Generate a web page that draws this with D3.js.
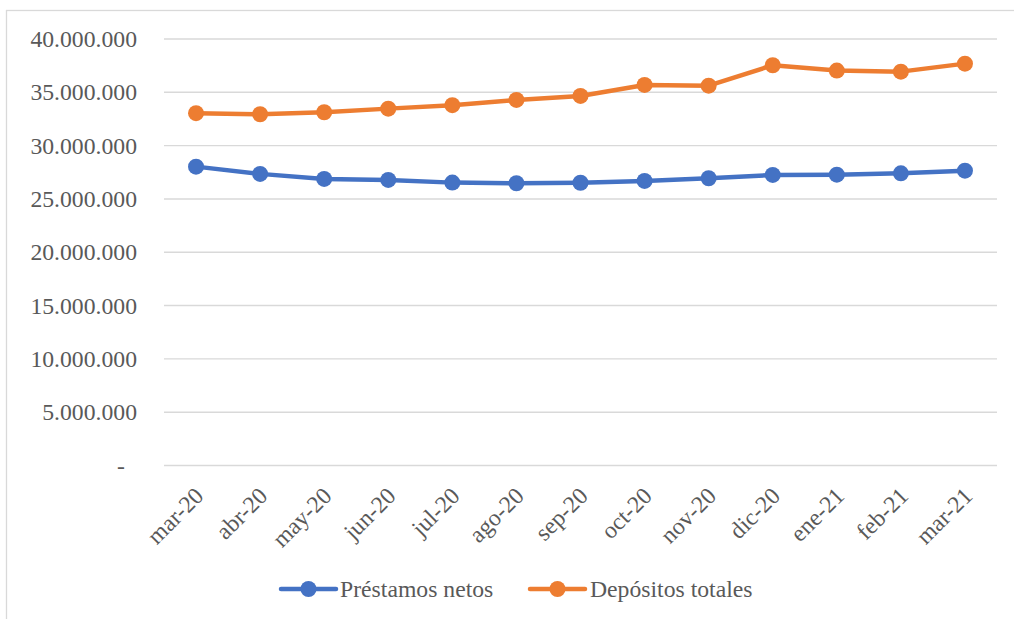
<!DOCTYPE html>
<html>
<head>
<meta charset="utf-8">
<script src="https://cdn.jsdelivr.net/npm/d3@7"></script>
<style>
  html, body { margin: 0; padding: 0; background: #fff; }
  svg { display: block; }
  #chart text { font-family: "Liberation Serif" !important; }
</style>
</head>
<body>
<svg id="chart" width="1014" height="619"></svg>
<script>
const categories = ["mar-20","abr-20","may-20","jun-20","jul-20","ago-20","sep-20","oct-20","nov-20","dic-20","ene-21","feb-21","mar-21"];
const prestamosNetos = [28030000, 27350000, 26880000, 26780000, 26530000, 26470000, 26520000, 26690000, 26940000, 27250000, 27280000, 27400000, 27650000];
const depositosTotales = [33040000, 32940000, 33130000, 33470000, 33790000, 34290000, 34660000, 35690000, 35620000, 37540000, 37040000, 36940000, 37690000];
const yTicks = [0, 5000000, 10000000, 15000000, 20000000, 25000000, 30000000, 35000000, 40000000];
const seriesNames = ["Préstamos netos", "Depósitos totales"];

const colors = ["#4472C4", "#ED7D31"];
const textColor = "#595959";
const fs = 23.7;

const svg = d3.select("#chart");

// outer frame
svg.append("rect")
  .attr("x", 6.5).attr("y", 10.5)
  .attr("width", 1020).attr("height", 620)
  .attr("fill", "none").attr("stroke", "#D9D9D9").attr("stroke-width", 1.3);

const plotLeft = 164, plotRight = 997, plotTop = 39, plotBottom = 465.5;

const x = d3.scaleBand().domain(categories).range([plotLeft, plotRight]).padding(0);
const y = d3.scaleLinear().domain([0, 40000000]).range([plotBottom, plotTop]);
const cx = d => x(d) + x.bandwidth() / 2;

const fmt = v => v === 0 ? "-" : d3.format(",")(v).replace(/,/g, ".");

// gridlines
svg.append("g").selectAll("line").data(yTicks).join("line")
  .attr("x1", plotLeft).attr("x2", plotRight)
  .attr("y1", d => y(d)).attr("y2", d => y(d))
  .attr("stroke", "#D9D9D9").attr("stroke-width", 1.4);

// y axis labels
const yAxis = d3.axisLeft(y).tickValues(yTicks).tickFormat(fmt).tickSize(0).tickPadding(0);
const yg = svg.append("g").attr("transform", `translate(137,0)`).call(yAxis);
yg.attr("font-family", "Liberation Serif").attr("font-size", fs);
yg.select(".domain").remove();
yg.selectAll("text")
  .attr("font-family", "Liberation Serif")
  .style("font-family", "'Liberation Serif'")
  .attr("font-size", fs)
  .attr("fill", textColor)
  .attr("x", d => d === 0 ? -12 : 0);

// x axis labels
const xAxis = d3.axisBottom(x).tickSize(0).tickPadding(0);
const xg = svg.append("g").attr("transform", `translate(0,${plotBottom})`).call(xAxis);
xg.attr("font-family", "Liberation Serif").attr("font-size", fs);
xg.select(".domain").remove();
xg.selectAll(".tick text")
  .attr("font-family", "Liberation Serif")
  .style("font-family", "'Liberation Serif'")
  .attr("font-size", fs)
  .attr("y", 0).attr("x", 0)
  .attr("dy", "0.35em")
  .attr("text-anchor", "end")
  .attr("transform", "translate(3,26) rotate(-45)")
  .attr("fill", textColor);

// lines
const series = [prestamosNetos, depositosTotales];
const line = d3.line().x((d, i) => cx(categories[i])).y(d => y(d));
series.forEach((vals, si) => {
  svg.append("path").datum(vals)
    .attr("d", line)
    .attr("fill", "none")
    .attr("stroke", colors[si])
    .attr("stroke-width", 4.5)
    .attr("stroke-linejoin", "round")
    .attr("stroke-linecap", "round");
  svg.append("g").selectAll("circle").data(vals).join("circle")
    .attr("cx", (d, i) => cx(categories[i]))
    .attr("cy", d => y(d))
    .attr("r", 8)
    .attr("fill", colors[si]);
});

// legend
const legendItems = [{x0: 281, tx: 340}, {x0: 530, tx: 590}];
legendItems.forEach((it, i) => {
  const g = svg.append("g");
  g.append("line")
    .attr("x1", it.x0).attr("x2", it.x0 + 55)
    .attr("y1", 589).attr("y2", 589)
    .attr("stroke", colors[i]).attr("stroke-width", 4.5)
    .attr("stroke-linecap", "round");
  g.append("circle")
    .attr("cx", it.x0 + 27.5).attr("cy", 589).attr("r", 8)
    .attr("fill", colors[i]);
  g.append("text")
    .attr("font-family", "Liberation Serif")
    .style("font-family", "'Liberation Serif'")
    .attr("font-size", fs)
    .attr("x", it.tx).attr("y", 597)
    .attr("fill", textColor)
    .text(seriesNames[i]);
});
</script>
</body>
</html>
